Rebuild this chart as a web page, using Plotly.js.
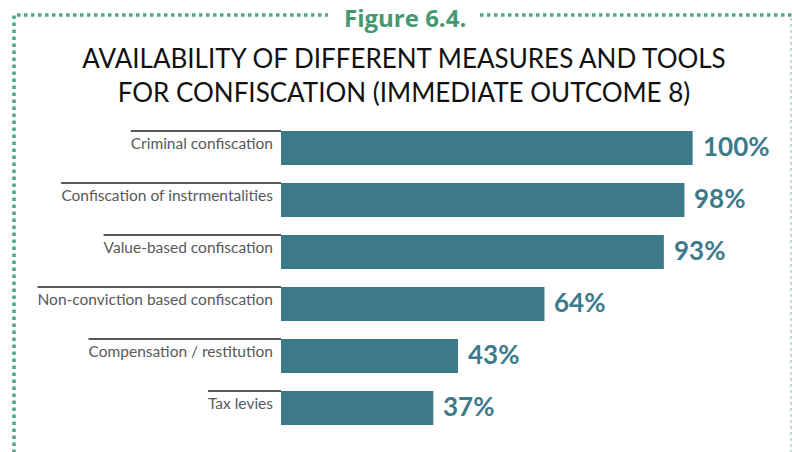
<!DOCTYPE html>
<html>
<head>
<meta charset="utf-8">
<script src="https://cdn.plot.ly/plotly-3.0.1.min.js"></script>
<style>
  body { margin: 0; background: #fff; }
  #chart { width: 792px; height: 452px; }
</style>
</head>
<body>
<div id="chart"></div>
<script>
// data
let measures = [
    "Criminal confiscation",
    "Confiscation of instrmentalities",
    "Value-based confiscation",
    "Non-conviction based confiscation",
    "Compensation / restitution",
    "Tax levies"
];
let shares = [100, 98, 93, 64, 43, 37];
let shareLabels = ["100%", "98%", "93%", "64%", "43%", "37%"];

// plot box in pixels, used to place the decoration
const L = 281, T = 122, W = 494, H = 312;
const px = x => (x - L) / W;
const py = y => (T + H - y) / H;

const barColor = "#3c7a8a";
const labelFont = "Lato, 'Open Sans', sans-serif";
const tickSize = 15.5;
const standoff = 7;
const barWidth = 0.65;

// measure tick label widths so the rule above each label matches its length
let ctx = document.createElement("canvas").getContext("2d");
ctx.font = tickSize + "px Lato";

let shapes = measures.map((m, i) => {
    let w = ctx.measureText(m).width;
    let yTop = py(T + (i + 0.5 - barWidth / 2) * (H / measures.length));
    return {
        type: "line", xref: "paper", yref: "paper",
        x0: -(standoff + w + 1) / W, x1: 0,
        y0: yTop, y1: yTop,
        line: { color: "#595959", width: 2 }
    };
});

// green chain border round the figure
shapes.push({
    type: "path", xref: "paper", yref: "paper",
    path: `M ${px(14)},${py(460)} L ${px(14)},${py(15)} L ${px(328)},${py(15)} M ${px(480)},${py(15)} L ${px(800)},${py(15)}`,
    line: { color: "#4fa883", width: 3.5, dash: "dot" }
});
shapes.push({
    type: "line", xref: "paper", yref: "paper",
    x0: px(791), x1: px(791), y0: py(18), y1: py(460),
    line: { color: "#8fb8a8", width: 1, dash: "dot" }
});

let annotations = shares.map((v, i) => ({
    x: v, y: measures[i], xref: "x", yref: "y",
    text: shareLabels[i], showarrow: false,
    xanchor: "left", xshift: 8, yshift: 2,
    font: { family: labelFont, size: 26, color: "#3d7a8b", weight: "bold" }
}));

annotations.push({
    xref: "paper", yref: "paper", x: px(405), y: py(0),
    text: "Figure 6.4.", showarrow: false,
    xanchor: "center", yanchor: "top", borderpad: 0,
    font: { family: "'Open Sans', sans-serif", size: 24, color: "#45986f", weight: "bold" }
});

let trace = {
    type: "bar",
    orientation: "h",
    x: shares,
    y: measures,
    width: barWidth,
    marker: { color: barColor },
    hoverinfo: "skip"
};

let layout = {
    width: 792, height: 452,
    margin: { l: L, r: 792 - L - W, t: T, b: 452 - T - H },
    paper_bgcolor: "#fff", plot_bgcolor: "#fff",
    title: {
        text: "AVAILABILITY OF DIFFERENT MEASURES AND TOOLS<br>FOR CONFISCATION (IMMEDIATE OUTCOME 8)",
        font: { family: labelFont, size: 26, color: "#111" },
        xref: "container", x: 404 / 792, xanchor: "center",
        yref: "container", y: 1 - 68 / 452, yanchor: "top"
    },
    xaxis: { range: [0, 120], visible: false, fixedrange: true },
    yaxis: {
        type: "category",
        range: [5.5, -0.5],
        showgrid: false, zeroline: false, showline: false,
        ticks: "",
        ticklabelstandoff: standoff,
        ticklabelshift: 4,
        tickfont: { family: labelFont, size: tickSize, color: "#595959" },
        automargin: false,
        fixedrange: true
    },
    shapes: shapes,
    annotations: annotations,
    showlegend: false
};

Plotly.newPlot("chart", [trace], layout, { displayModeBar: false, staticPlot: true });
</script>
</body>
</html>
